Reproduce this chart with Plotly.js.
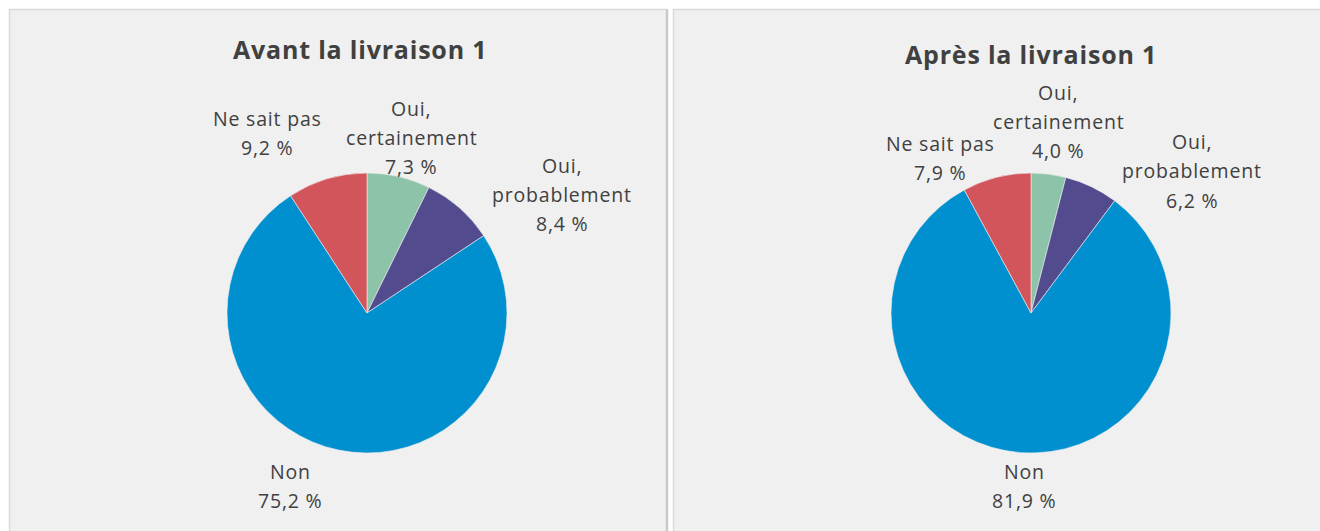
<!DOCTYPE html>
<html>
<head>
<meta charset="utf-8">
<script src="https://cdn.plot.ly/plotly-3.0.1.min.js"></script>
<style>html,body{margin:0;padding:0;background:#fff;}#chart{width:1320px;height:531px;}
.annotation-text{letter-spacing:0.8px;}</style>
</head>
<body>
<div id="chart"></div>
<script>
// ---- data ----
const categories = ["Oui, certainement", "Oui, probablement", "Non", "Ne sait pas"];
const avantValues = [7.3, 8.4, 75.2, 9.2];
const apresValues = [4.0, 6.2, 81.9, 7.9];
const panelTitles = ["Avant la livraison 1", "Après la livraison 1"];
const sliceColors = ["#8dc3a9", "#524b8e", "#0090d0", "#d2555b"];

// ---- layout helpers (pixel positions) ----
const W = 1320, H = 531;
const px = x => x / W;
const py = y => (H - y) / H;
const pieBoxes = [
  {x0: 227, x1: 507, y0: 173, y1: 453},
  {x0: 891, x1: 1171, y0: 173, y1: 453}
];
const labelPos = [
  [[411, 108], [562, 165], [290, 471], [267, 118]],
  [[1058, 92], [1192, 141], [1024, 471], [940, 143]]
];
const titlePos = [[360, 49], [1031, 54]];
const lineStep = 29.5;

const allValues = [avantValues, apresValues];
const fmt = v => v.toFixed(1).replace('.', ',') + ' %';
const splitLabel = s => s.indexOf(', ') >= 0 ? [s.split(', ')[0] + ',', s.split(', ')[1]] : [s];

const traces = allValues.map((vals, i) => ({
  type: 'pie',
  values: vals,
  labels: categories,
  sort: false,
  direction: 'clockwise',
  rotation: 0,
  textinfo: 'none',
  hoverinfo: 'label+value',
  marker: {colors: sliceColors, line: {color: '#eeeeee', width: 0.6}},
  domain: {x: [px(pieBoxes[i].x0), px(pieBoxes[i].x1)], y: [py(pieBoxes[i].y1), py(pieBoxes[i].y0)]},
  showlegend: false
}));

const annotations = [];
const labelFont = {family: '"Open Sans", sans-serif', size: 19.5, color: '#404040'};
allValues.forEach((vals, i) => {
  annotations.push({
    xref: 'paper', yref: 'paper', x: px(titlePos[i][0]), y: py(titlePos[i][1]),
    xanchor: 'center', yanchor: 'middle', showarrow: false,
    text: '<b>' + panelTitles[i] + '</b>',
    font: {family: '"Open Sans", sans-serif', size: 25, color: '#404040'}
  });
  categories.forEach((c, k) => {
    const lines = splitLabel(c).concat([fmt(vals[k])]);
    lines.forEach((t, j) => {
      annotations.push({
        xref: 'paper', yref: 'paper',
        x: px(labelPos[i][k][0]), y: py(labelPos[i][k][1] + j * lineStep),
        xanchor: 'center', yanchor: 'middle', showarrow: false,
        text: t, font: labelFont
      });
    });
  });
});

const shapes = [
  {type: 'rect', xref: 'paper', yref: 'paper', x0: px(9.5), x1: px(667), y0: -0.02, y1: py(9.5),
   fillcolor: '#f0f0f0', line: {color: '#d9d9d9', width: 1.5}, layer: 'below'},
  {type: 'line', xref: 'paper', yref: 'paper', x0: px(667), x1: px(667), y0: -0.02, y1: py(9.5),
   line: {color: '#c9c9c9', width: 2.5}, layer: 'below'},
  {type: 'rect', xref: 'paper', yref: 'paper', x0: px(673.5), x1: px(1330), y0: -0.02, y1: py(9.5),
   fillcolor: '#f0f0f0', line: {color: '#d9d9d9', width: 1.5}, layer: 'below'}
];

const layout = {
  width: W, height: H,
  margin: {l: 0, r: 0, t: 0, b: 0},
  paper_bgcolor: '#ffffff',
  plot_bgcolor: '#ffffff',
  annotations: annotations,
  shapes: shapes
};

Plotly.newPlot('chart', traces, layout, {displayModeBar: false, staticPlot: true});
</script>
</body>
</html>
